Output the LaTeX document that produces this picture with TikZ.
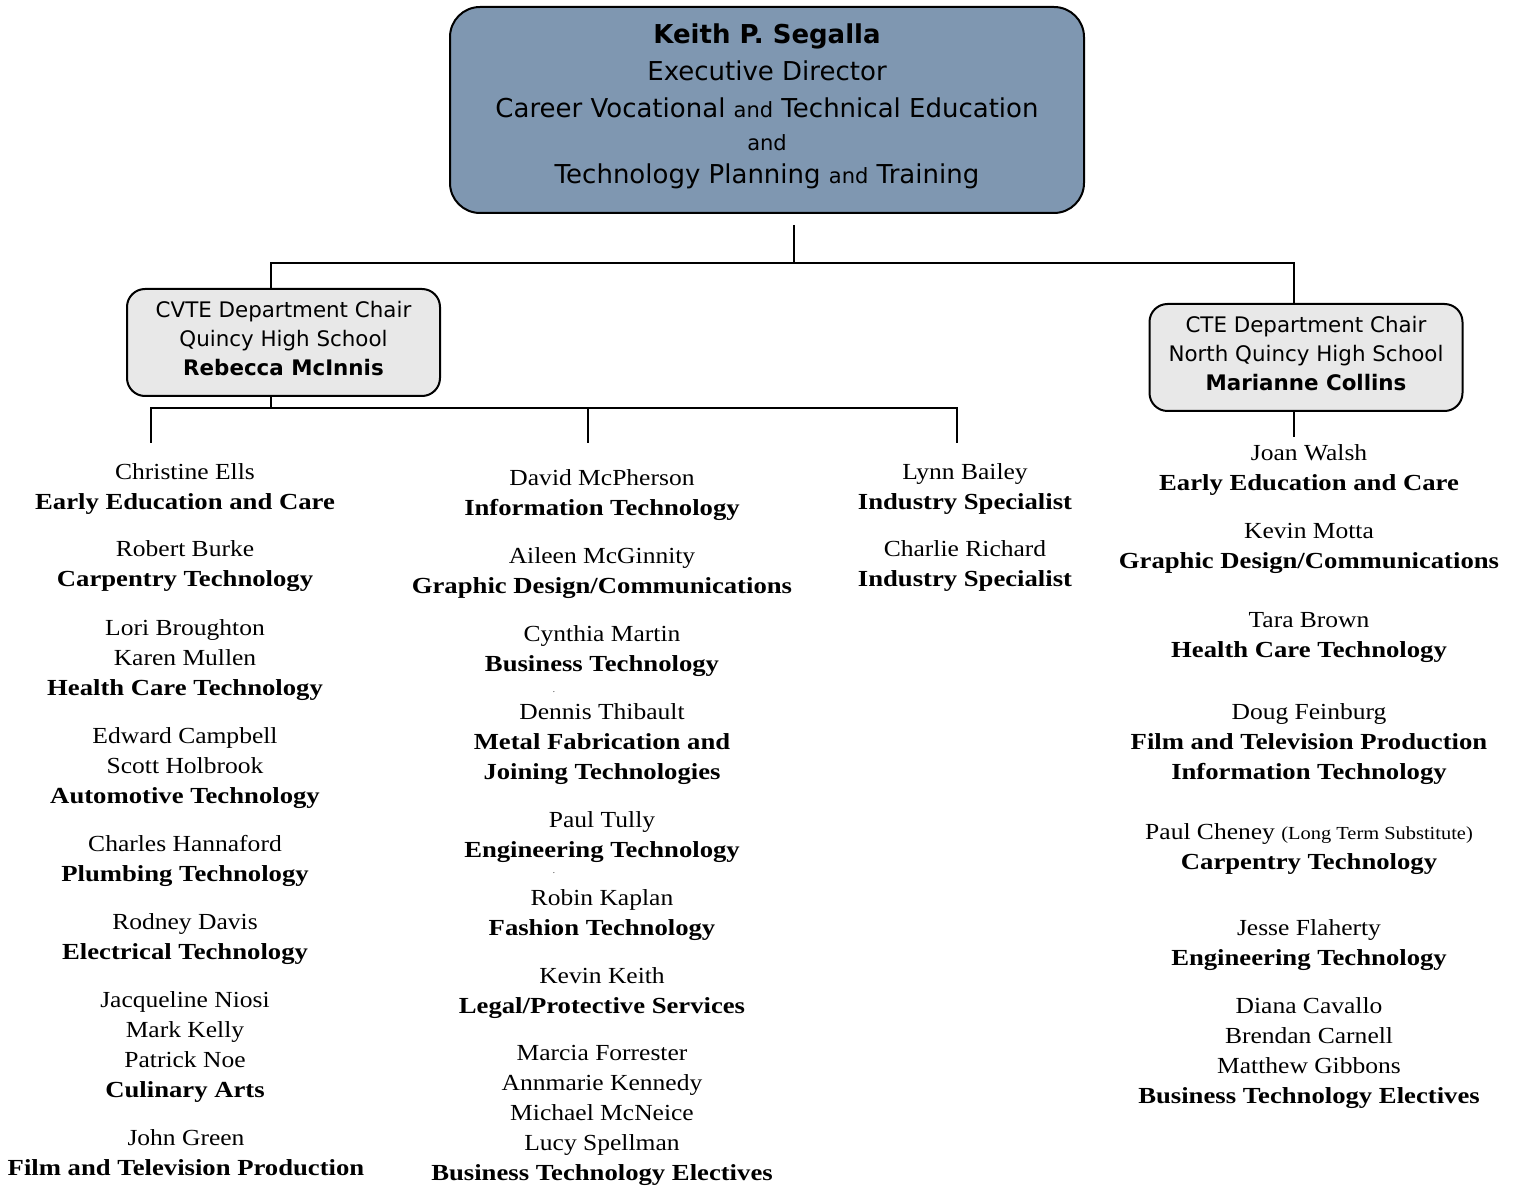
\documentclass[tikz,border=0pt]{standalone}
\usepackage{fontspec}
\setmainfont[FakeStretch=1.11,BoldFeatures={FakeStretch=1.16}]{Liberation Serif}
\newfontfamily\boxfont{DejaVu Sans}
\definecolor{headblue}{RGB}{127,151,177}
\definecolor{chairgray}{RGB}{232,232,232}
\newcommand{\smalland}{{\fontsize{10.5}{12}\selectfont and}}
\begin{document}
\begin{tikzpicture}[x=0.5pt,y=-0.5pt]
        \tikzstyle{head}=[draw=black,line width=1pt,fill=headblue,rounded corners=15pt,minimum width=317pt,minimum height=103pt,align=center,inner sep=0pt,font=\boxfont\fontsize{13}{18.5}\selectfont]
        \tikzstyle{chair}=[draw=black,line width=1pt,fill=chairgray,rounded corners=9pt,minimum width=156.5pt,minimum height=53.5pt,align=center,inner sep=0pt,font=\boxfont\fontsize{10.7}{14.5}\selectfont]
        \tikzstyle{staff}=[anchor=north,align=center,inner sep=0pt,font=\fontsize{11.5}{15}\selectfont,execute at begin node=\strut]
        \tikzstyle{speck}=[inner sep=0pt,font=\fontsize{4}{4}\selectfont]
        \tikzstyle{link}=[draw,line width=1pt]
       \useasboundingbox (0,0) rectangle (1522,1187);
       \begin{scope}
         \node [head] (director) at (767,110) {\textbf{Keith P. Segalla}\\Executive Director\\Career Vocational \smalland{} Technical Education\\[-2pt]{\fontsize{10.5}{18.5}\selectfont and}\\[-2pt]Technology Planning \smalland{} Training\rule[-6pt]{0pt}{6pt}};
         \node [chair] (lchair) at (283.5,342.5) {CVTE Department Chair\\Quincy High School\\\textbf{Rebecca McInnis}\rule[-4.6pt]{0pt}{4.6pt}};
         \node [chair] (rchair) at (1306,357.5) {CTE Department Chair\\North Quincy High School\\\textbf{Marianne Collins}\rule[-4.6pt]{0pt}{4.6pt}};
        \end{scope}
       \begin{scope}
         \coordinate (stem) at (794,225);
         \coordinate (bus) at (794,263);
         \coordinate (lbus) at (271,408);
         \coordinate (d1) at (151,443);
         \coordinate (d2) at (588,443);
         \coordinate (d3) at (957,443);
         \coordinate (d4) at (1294,437);
         \path[link] (stem) -- (bus);
         \path[link] ([xshift=-6.25pt]lchair.north) |- (bus) -| ([xshift=-6pt]rchair.north);
         \path[link] ([xshift=-6.25pt]lchair.south) -- (lbus);
         \path[link] (d1) |- (lbus) -| (d3);
         \path[link] (d2) -- (d2 |- lbus);
         \path[link] ([xshift=-6pt]rchair.south) -- (d4);
        \end{scope}
       \begin{scope}
         \node [staff] (l1) at (185,463) {Christine Ells\\\textbf{Early Education and Care}};
         \node [staff] (l2) at (185,540) {Robert Burke\\\textbf{Carpentry Technology}};
         \node [staff] (l3) at (185,619) {Lori Broughton\\Karen Mullen\\\textbf{Health Care Technology}};
         \node [staff] (l4) at (185,727) {Edward Campbell\\Scott Holbrook\\\textbf{Automotive Technology}};
         \node [staff] (l5) at (185,835) {Charles Hannaford\\\textbf{Plumbing Technology}};
         \node [staff] (l6) at (185,913) {Rodney Davis\\\textbf{Electrical Technology}};
         \node [staff] (l7) at (185,991) {Jacqueline Niosi\\Mark Kelly\\Patrick Noe\\\textbf{Culinary Arts}};
         \node [staff] (l8) at (186,1129) {John Green\\\textbf{Film and Television Production}};
        \end{scope}
       \begin{scope}
         \node [staff] (m1) at (602,469) {David McPherson\\\textbf{Information Technology}};
         \node [staff] (m2) at (602,547) {Aileen McGinnity\\\textbf{Graphic Design/Communications}};
         \node [staff] (m3) at (602,625) {Cynthia Martin\\\textbf{Business Technology}};
         \node [speck] (dot1) at (554,692) {.};
         \node [staff] (m4) at (602,703) {Dennis Thibault\\\textbf{Metal Fabrication and}\\\textbf{Joining Technologies}};
         \node [staff] (m5) at (602,811) {Paul Tully\\\textbf{Engineering Technology}};
         \node [speck] (dot2) at (554,873) {.};
         \node [staff] (m6) at (602,889) {Robin Kaplan\\\textbf{Fashion Technology}};
         \node [staff] (m7) at (602,967) {Kevin Keith\\\textbf{Legal/Protective Services}};
         \node [staff] (m8) at (602,1045) {Marcia Forrester\\Annmarie Kennedy\\Michael McNeice\\Lucy Spellman\\\textbf{Business Technology Electives}};
        \end{scope}
       \begin{scope}
         \node [staff] (s1) at (965,463) {Lynn Bailey\\\textbf{Industry Specialist}};
         \node [staff] (s2) at (965,540) {Charlie Richard\\\textbf{Industry Specialist}};
        \end{scope}
       \begin{scope}
         \node [staff] (r1) at (1309,444) {Joan Walsh\\\textbf{Early Education and Care}};
         \node [staff] (r2) at (1309,523) {Kevin Motta\\\textbf{Graphic Design/Communications}};
         \node [staff] (r3) at (1309,612) {Tara Brown\\\textbf{Health Care Technology}};
         \node [staff] (r4) at (1309,703) {Doug Feinburg\\\textbf{Film and Television Production}\\\textbf{Information Technology}};
         \node [staff] (r5) at (1309,823) {Paul Cheney {\fontsize{9.2}{15}\selectfont (Long Term Substitute)}\\\textbf{Carpentry Technology}};
         \node [staff] (r6) at (1309,919) {Jesse Flaherty\\\textbf{Engineering Technology}};
         \node [staff] (r7) at (1309,997) {Diana Cavallo\\Brendan Carnell\\Matthew Gibbons\\\textbf{Business Technology Electives}};
        \end{scope}
      \end{tikzpicture}
\end{document}
